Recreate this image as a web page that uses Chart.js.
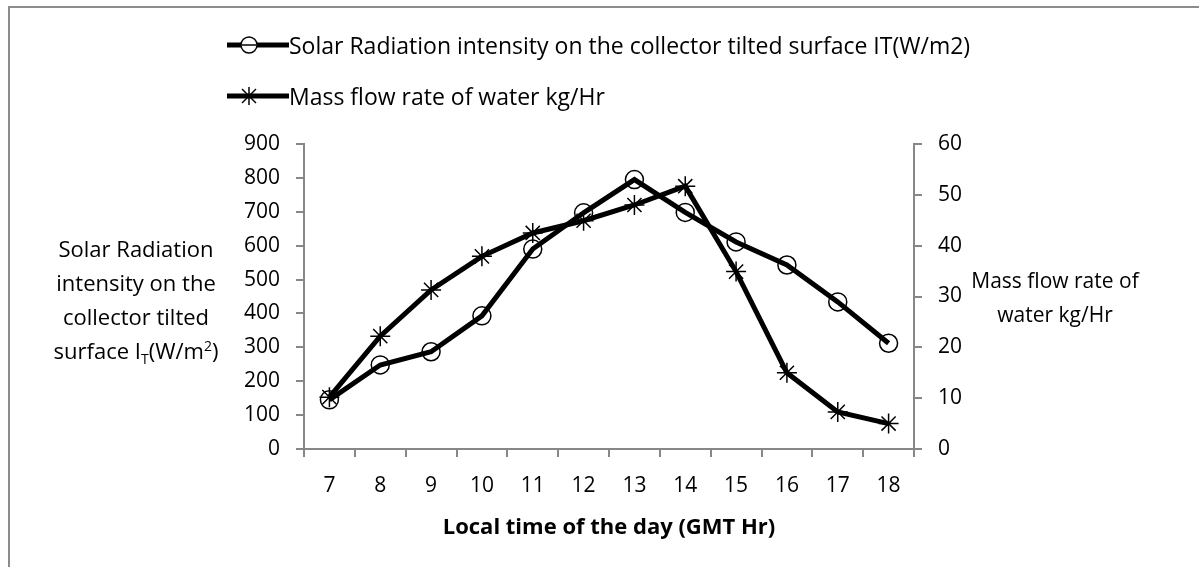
<!DOCTYPE html>
<html>
<head>
<meta charset="utf-8">
<script src="https://cdn.jsdelivr.net/npm/chart.js@4"></script>
<style>
  html, body { margin: 0; padding: 0; background: #fff; }
  body { width: 1199px; height: 567px; position: relative; overflow: hidden; font-family: "Open Sans", sans-serif; color: #000; }
  #frame { position: absolute; left: 8px; top: 6px; width: 1300px; height: 700px; border-left: 2px solid #8c8c8c; border-top: 2px solid #8c8c8c; }
  #wrap { position: absolute; left: 0; top: 0; width: 1199px; height: 567px; }
  .leg { position: absolute; left: 227px; height: 30px; display: flex; align-items: center; font-size: 23px; white-space: nowrap; }
  .ytitle { position: absolute; font-size: 22px; line-height: 34px; text-align: center; }
  sub, sup { font-size: 14px; line-height: 0; }
</style>
</head>
<body>
<div id="frame"></div>
<div id="wrap"><canvas id="chart" width="1199" height="567"></canvas></div>

<div class="leg" style="top:30px">
  <svg width="62" height="30"><line x1="0" y1="15" x2="62" y2="15" stroke="#000" stroke-width="5"/><circle cx="22" cy="15" r="8" fill="#fff" stroke="#000" stroke-width="1.5"/><line x1="15" y1="15" x2="29" y2="15" stroke="#000" stroke-width="1.5"/></svg>
  <span>Solar Radiation intensity on the collector tilted surface IT(W/m2)</span>
</div>
<div class="leg" style="top:81px">
  <svg width="62" height="30"><line x1="0" y1="15" x2="62" y2="15" stroke="#000" stroke-width="5"/><g stroke="#000" stroke-width="1.5"><line x1="13" y1="15" x2="31" y2="15"/><line x1="22" y1="6" x2="22" y2="24"/><line x1="15" y1="8" x2="29" y2="22"/><line x1="29" y1="8" x2="15" y2="22"/></g></svg>
  <span>Mass flow rate of water kg/Hr</span>
</div>

<div class="ytitle" style="left:24px; top:231px; width:224px">Solar Radiation<br>intensity on the<br>collector tilted<br>surface I<sub>T</sub>(W/m<sup>2</sup>)</div>
<div class="ytitle" style="left:965px; top:263px; width:180px; font-size:21px">Mass flow rate of<br>water kg/Hr</div>

<script>
const hours = ["7", "8", "9", "10", "11", "12", "13", "14", "15", "16", "17", "18"];
const solarIT = [145, 248, 287, 393, 590, 697, 795, 698, 611, 543, 434, 312];
const massFlow = [10.2, 22.2, 31.3, 37.9, 42.5, 44.9, 48, 51.7, 34.9, 15, 7.3, 5];

const leftTicks = [0, 100, 200, 300, 400, 500, 600, 700, 800, 900];
const rightTicks = [0, 10, 20, 30, 40, 50, 60];

const axisGray = "#878787";
const tickFont = { family: "'Open Sans', sans-serif", size: 21 };

new Chart(document.getElementById("chart"), {
  type: "line",
  data: {
    labels: hours,
    datasets: [{
      label: "Solar Radiation intensity on the collector tilted surface IT(W/m2)",
      data: solarIT,
      yAxisID: "y",
      borderColor: "#000",
      borderWidth: 5,
      pointStyle: "circle",
      pointRadius: 9,
      pointBorderWidth: 1.5,
      pointBackgroundColor: "rgba(0,0,0,0)",
      pointBorderColor: "#000",
      tension: 0
    }, {
      label: "Mass flow rate of water kg/Hr",
      data: massFlow,
      yAxisID: "y1",
      borderColor: "#000",
      borderWidth: 5,
      pointStyle: "star",
      pointRadius: 10,
      pointBorderWidth: 1.5,
      pointBackgroundColor: "rgba(0,0,0,0)",
      pointBorderColor: "#000",
      tension: 0
    }]
  },
  options: {
    responsive: false,
    animation: false,
    layout: { padding: { top: 144, bottom: 22, left: 0, right: 0 } },
    plugins: {
      legend: { display: false },
      tooltip: { enabled: false }
    },
    scales: {
      x: {
        offset: true,
        grid: { drawOnChartArea: false, color: axisGray, lineWidth: 2, tickLength: 8, offset: true },
        border: { color: axisGray, width: 2 },
        ticks: { color: "#000", font: tickFont, padding: 16, maxRotation: 0 },
        title: {
          display: true,
          text: "Local time of the day (GMT Hr)",
          color: "#000",
          font: { family: "'Open Sans', sans-serif", size: 22, weight: "bold" },
          padding: { top: 4, bottom: 4 }
        },
        afterFit: (s) => { s.height = 567 - 22 - 449; }
      },
      y: {
        position: "left",
        min: 0,
        max: 900,
        afterBuildTicks: (s) => { s.ticks = leftTicks.map(v => ({ value: v })); },
        grid: { drawOnChartArea: false, color: axisGray, lineWidth: 2, tickLength: 8 },
        border: { color: axisGray, width: 2 },
        ticks: { color: "#000", font: tickFont, padding: 16 },
        afterFit: (s) => { s.width = 304; }
      },
      y1: {
        position: "right",
        min: 0,
        max: 60,
        afterBuildTicks: (s) => { s.ticks = rightTicks.map(v => ({ value: v })); },
        grid: { drawOnChartArea: false, color: axisGray, lineWidth: 2, tickLength: 8 },
        border: { color: axisGray, width: 2 },
        ticks: { color: "#000", font: tickFont, padding: 16 },
        afterFit: (s) => { s.width = 1199 - 914; }
      }
    }
  }
});
</script>
</body>
</html>
